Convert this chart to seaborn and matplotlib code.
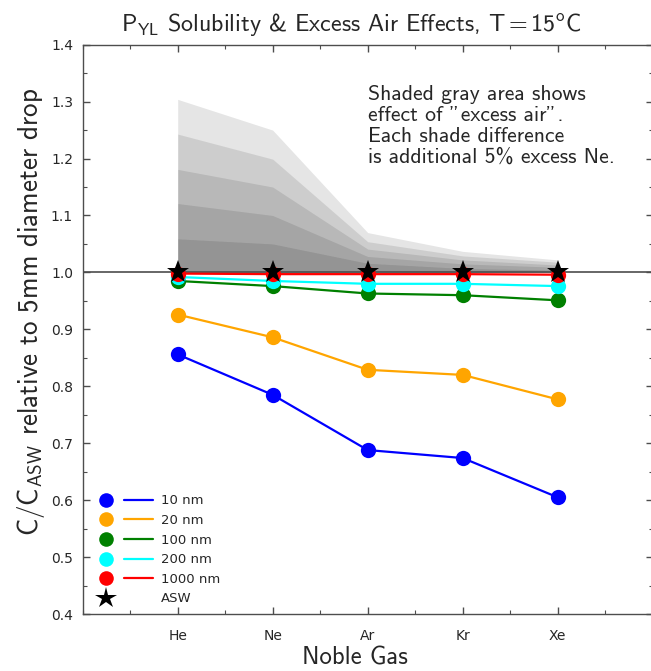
import matplotlib
matplotlib.use("Agg")
import matplotlib.pyplot as plt
from matplotlib.lines import Line2D
from matplotlib.legend_handler import HandlerTuple
from matplotlib.ticker import MultipleLocator
import seaborn as sns
import numpy as np

# Werte
gases = ['He', 'Ne', 'Ar', 'Kr', 'Xe']
xpos = [1, 2, 3, 4, 5]

c_10nm = [0.856, 0.785, 0.688, 0.674, 0.605]
c_20nm = [0.926, 0.886, 0.829, 0.820, 0.777]
c_100nm = [0.985, 0.976, 0.963, 0.960, 0.951]
c_200nm = [0.992, 0.985, 0.980, 0.980, 0.976]
c_1000nm = [0.998, 0.997, 0.997, 0.997, 0.996]
asw = [1.0, 1.0, 1.0, 1.0, 1.0]

# excess air, 5% steps of excess Ne
excess_5 = [1.059, 1.050, 1.016, 1.007, 1.004]
excess_10 = [1.121, 1.100, 1.028, 1.015, 1.009]
excess_15 = [1.181, 1.150, 1.041, 1.022, 1.013]
excess_20 = [1.243, 1.199, 1.054, 1.029, 1.018]
excess_25 = [1.304, 1.250, 1.070, 1.037, 1.022]

series = [
    (c_10nm, '#0000ff', '10 nm'),
    (c_20nm, '#ffa500', '20 nm'),
    (c_100nm, '#008000', '100 nm'),
    (c_200nm, '#00ffff', '200 nm'),
    (c_1000nm, '#ff0000', '1000 nm'),
]

sns.set_style('ticks')
plt.rcParams.update({
    'mathtext.fontset': 'custom',
    'mathtext.rm': 'cmss10',
    'mathtext.sf': 'cmss10',
    'mathtext.it': 'cmss10',
    'axes.unicode_minus': False,
})
plt.rcParams['font.family'] = ['DejaVu Sans']

fig = plt.figure(figsize=(6.51, 6.71), dpi=100)
ax = fig.add_axes([0.127, 0.0849, 0.8756, 0.8485])

# gray shading (stacked alpha)
for top in [excess_5, excess_10, excess_15, excess_20, excess_25]:
    ax.fill_between(xpos, 1.0, top, color='k', alpha=0.1, lw=0, zorder=1)

ax.axhline(1.0, color='0.3', lw=1.2, zorder=2)

for vals, col, lab in series:
    sns.lineplot(x=xpos, y=vals, color=col, lw=1.6, marker='o', markersize=11,
                 markeredgewidth=0, ax=ax, zorder=3)

sns.lineplot(x=xpos, y=asw, color='k', lw=0, marker='*', markersize=17,
             markeredgewidth=0, ax=ax, zorder=5)

ax.set_xlim(0, 6)
ax.set_ylim(0.4, 1.4)
ax.set_xticks(xpos)
ax.set_xticklabels(gases)
ax.xaxis.set_minor_locator(MultipleLocator(0.5))
ax.set_yticks(np.arange(0.4, 1.41, 0.1))
ax.yaxis.set_major_formatter(matplotlib.ticker.FormatStrFormatter('%.1f'))
ax.yaxis.set_minor_locator(MultipleLocator(0.05))
ax.tick_params(which='both', direction='in', top=True, right=True, color='0.3')
ax.tick_params(which='major', length=5, width=1)
ax.tick_params(which='minor', length=3, width=0.8)
ax.tick_params(axis='y', labelsize=10, pad=7, labelcolor='0.15')
ax.tick_params(axis='x', labelsize=10, pad=11, labelcolor='0.15')
for sp in ax.spines.values():
    sp.set_color('0.3')
    sp.set_linewidth(1.0)

cm = dict(family='cmss10')
fig.text(352 / 651, 1 - 24 / 671,
         r'$\mathrm{P_{YL}}$ Solubility & Excess Air Effects, T$=$15$^{\mathrm{o}}$C',
         ha='center', va='center', fontsize=17.3, **cm)
fig.text(355 / 651, 1 - 658 / 671, 'Noble Gas', ha='center', va='center',
         fontsize=17.8, **cm)
fig.text(31 / 651, 1 - 312 / 671,
         r'C/C$_{\mathrm{ASW}}$ relative to 5mm diameter drop',
         ha='center', va='center', rotation=90, fontsize=19.5, **cm)

fig.text(368 / 651, 1 - 85 / 671,
         'Shaded gray area shows\neffect of "excess air".\n'
         'Each shade difference\nis additional 5% excess Ne.',
         ha='left', va='top', fontsize=15.6, linespacing=1.12, **cm)

# legend: circle + line side by side
handles = []
labels = []
for vals, col, lab in series:
    dot = Line2D([], [], marker='o', color=col, lw=0, markersize=10.5, markeredgewidth=0)
    ln = Line2D([], [], color=col, lw=1.6)
    handles.append((dot, ln))
    labels.append(lab)
star = Line2D([], [], marker='*', color='k', lw=0, markersize=16, markeredgewidth=0)
handles.append((star, Line2D([], [], lw=0)))
labels.append('ASW')

ax.legend(handles, labels, loc='lower left', bbox_to_anchor=(0.0, 0.0),
          frameon=False, fontsize=9.5, handlelength=4.66, handletextpad=0.6,
          labelspacing=0.5, borderaxespad=0.35, borderpad=0.3,
          handler_map={tuple: HandlerTuple(ndivide=None, pad=0.27)})

fig.savefig('out.png', dpi=100)
